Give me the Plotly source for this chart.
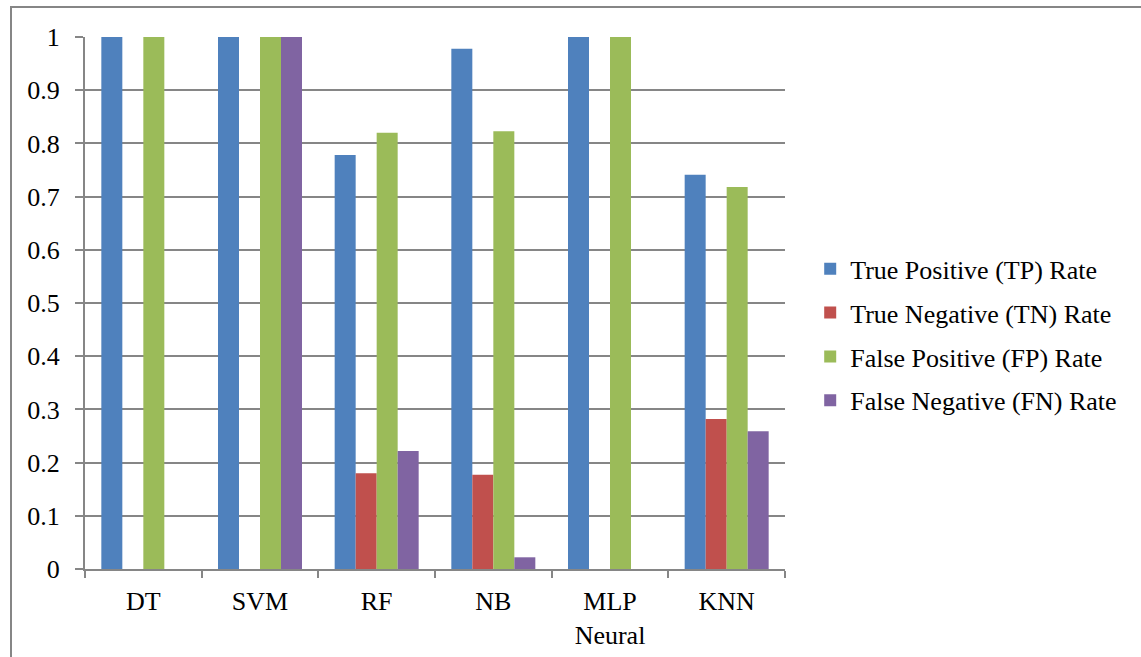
import plotly.graph_objects as go

# Classifier categories and rates
models = ["DT", "SVM", "RF", "NB", "MLP<br>Neural", "KNN"]
tp_rate = [1.0, 1.0, 0.778, 0.978, 1.0, 0.741]
tn_rate = [0.0, 0.0, 0.180, 0.177, 0.0, 0.282]
fp_rate = [1.0, 1.0, 0.820, 0.823, 1.0, 0.718]
fn_rate = [0.0, 1.0, 0.222, 0.022, 0.0, 0.259]

series_names = [
    "True Positive (TP) Rate",
    "True Negative (TN) Rate",
    "False Positive (FP) Rate",
    "False Negative (FN) Rate",
]
series_values = [tp_rate, tn_rate, fp_rate, fn_rate]
colors = ["#4F81BD", "#C0504D", "#9BBB59", "#8064A2"]

W, H = 1141, 657
L, R, T, B = 85, 356, 37, 88
pw, ph = W - L - R, H - T - B

fig = go.Figure()
for i, (name, vals, col) in enumerate(zip(series_names, series_values, colors)):
    fig.add_trace(go.Bar(
        x=models, y=vals, name=name, marker=dict(color=col, line=dict(width=0)),
        legendgroup=f"g{i}",
    ))

font_family = "Liberation Serif"
fs = 26
grid_col = "#868686"

# outer chart border (left and top edges visible)
fig.add_shape(
    type="rect", xref="paper", yref="paper",
    x0=(11 - L) / pw, x1=(W + 10 - L) / pw,
    y0=-(H + 10 - (T + ph)) / ph, y1=(T + ph - 7) / ph,
    line=dict(color=grid_col, width=2), fillcolor="rgba(0,0,0,0)", layer="below",
)

fig.update_layout(
    width=W, height=H,
    margin=dict(l=L, r=R, t=T, b=B, pad=0, autoexpand=False),
    paper_bgcolor="white", plot_bgcolor="white",
    barmode="group", bargap=0.28, bargroupgap=0,
    font=dict(family=font_family, size=fs, color="black"),
    showlegend=True,
    legend=dict(
        x=1.036, xanchor="left", y=0.44, yanchor="middle",
        font=dict(family=font_family, size=fs, color="black"),
        tracegroupgap=7, itemwidth=30,
        bgcolor="rgba(0,0,0,0)",
    ),
    xaxis=dict(
        automargin=False,
        showline=True, linecolor=grid_col, linewidth=2,
        ticks="outside", tickson="boundaries", ticklen=7, tickwidth=2, tickcolor=grid_col,
        showgrid=False, tickfont=dict(family=font_family, size=fs),
        ticklabelstandoff=8,
    ),
    yaxis=dict(
        automargin=False,
        range=[0, 1], tickvals=[0, 0.1, 0.2, 0.3, 0.4, 0.5, 0.6, 0.7, 0.8, 0.9, 1.0],
        ticktext=["0", "0.1", "0.2", "0.3", "0.4", "0.5", "0.6", "0.7", "0.8", "0.9", "1"],
        showgrid=True, gridcolor=grid_col, gridwidth=2,
        showline=True, linecolor=grid_col, linewidth=2,
        ticks="outside", ticklen=8, tickwidth=2, tickcolor=grid_col,
        zeroline=False, tickfont=dict(family=font_family, size=fs),
        ticklabelstandoff=10,
    ),
)

fig.write_html("out.html")
